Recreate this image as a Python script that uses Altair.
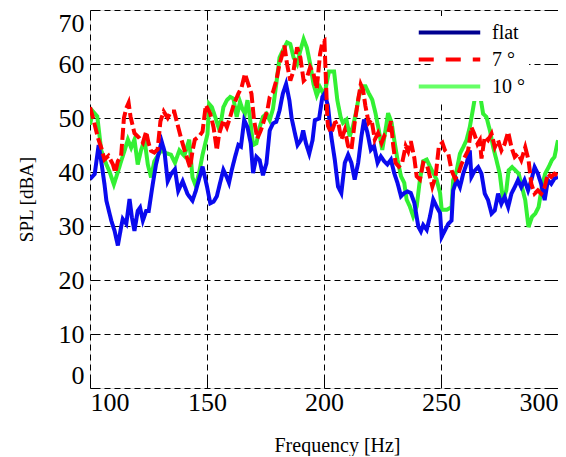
import altair as alt
import pandas as pd

# --- data ---
flat_f = [100, 102, 103.7, 104.8, 106.2, 107, 109.1, 110.5, 111.9, 113.3, 114, 115.5, 116.9, 117.9, 119,
          120.4, 121.4, 122.6, 124, 125.1, 126.8, 128.2, 129.6, 130.6, 131.8, 133.2, 134.6, 136.3, 137.7,
          139.6, 141.7, 143.8, 145.2, 148.1, 150, 151.4, 152.8, 154.2, 155.6, 157, 158.5, 159.4, 160.6,
          162, 163.4, 164.5, 165.9, 167.3, 168.7, 169.7, 171.1, 172.5, 173.9, 175.4, 176.8, 178.2, 179.6,
          181, 182.4, 183.8, 185.2, 186.2, 187.6, 188.7, 190.1, 191.1, 192.3, 193.7, 195.1, 196.1, 197.9,
          199.3, 200.3, 201.7, 203.1, 204.6, 206, 207.4, 208.9, 210.3, 211.7, 213.1, 214.6, 216, 217.1,
          218.6, 220, 221.4, 222.9, 224.3, 225.7, 227.1, 228.6, 230, 231.4, 232.9, 234.3, 235.7, 237.1,
          238.6, 240.3, 241.4, 242.4, 243.9, 245.3, 246.7, 248.1, 249.6, 250.3, 251.7, 253.1, 254.5, 255.2,
          256.7, 258.1, 259.5, 260.9, 262.3, 263, 264.5, 265.9, 267.3, 268.7, 270.1, 271.6, 273, 274.4,
          275.8, 277.2, 278.7, 280.1, 281.5, 282.9, 284.3, 285.7, 287.2, 288.6, 290, 291.4, 292.8, 294.3,
          295.7, 297.1, 298.5, 300]
flat_v = [38.7, 39.6, 45, 42, 37.7, 34.7, 31, 29.1, 26.4, 29.8, 31.3, 30.4, 35, 31.6, 29.1,
          32.8, 33.4, 31, 32.8, 32.8, 37.7, 41.4, 43.9, 45.7, 43.9, 38.3, 39.6, 40.5, 36.5,
          38.3, 35.9, 34.7, 36.5, 41, 37.3, 34.2, 34.5, 35.5, 38, 40.4, 39, 38, 40.4,
          42.8, 45, 44.7, 49.6, 48.3, 45.3, 39.8, 42.8, 42.2, 39.4, 41.6, 47.7, 49, 49.3,
          51.4, 54.5, 56.3, 53.3, 49.9, 47.1, 45, 45.9, 47.7, 45.3, 43.4, 45.9, 49.6, 49.9,
          53.9, 54.6, 52.2, 46.6, 42.3, 37.3, 36.1, 41.7, 43.2, 41.7, 38.6, 41.7, 46.6, 49.7,
          47.2, 44.1, 44.8, 41.7, 42.9, 42, 41.4, 42.3, 39.8, 38, 35.5, 36.1, 36.4, 36.1,
          34.3, 29.9, 29, 30.2, 29.3, 31.8, 34.9, 33.6, 32.4, 28, 29.2, 30.4, 31, 36.6,
          38.5, 37.2, 39.7, 41.5, 44, 39.1, 40.3, 40.9, 39.7, 36, 34.8, 32.3, 32.9, 36,
          34.1, 35.4, 33.5, 36, 37.2, 38.5, 37.2, 38.5, 36.6, 38.5, 40.9, 39.7, 37.8, 34.8,
          38.5, 37.8, 38.8, 39.1]

deg7_f = [100, 101.3, 103.4, 104.8, 106.2, 107.9, 109.8, 110.8, 111.9, 113.3, 114.5, 115.5, 116.5, 117.3,
          119, 121.1, 122.6, 124, 125, 126.1, 127.5, 128.9, 130.1, 131.5, 133.2, 134.6, 136, 137.4,
          138.9, 140.3, 141.7, 142.8, 143.8, 144.8, 146.7, 148.1, 149.5, 151.4, 152.8, 154.2, 155.2,
          157, 158.5, 159.9, 161.3, 163.4, 164.8, 166.2, 167.6, 169, 170.1, 171.5, 173, 174.4, 175.8,
          176.8, 178.2, 179.6, 181, 182.4, 183.1, 184.2, 185.6, 187, 188.5, 189.9, 191.3, 192.7, 194.1,
          195.5, 196.9, 198.3, 199.3, 200.2, 201.4, 201.7, 203.1, 204.6, 206, 207.4, 208.9, 210.3, 211.7,
          213.1, 214.6, 215.7, 216.7, 217.7, 219.1, 220.3, 221.7, 223.1, 224.6, 226, 227.4, 228.6,
          229.6, 230.6, 232, 233.4, 234.9, 236, 237.1, 238.6, 239.6, 241, 242.4, 243.9, 244.9, 246.3,
          247.7, 249.1, 250.6, 251.7, 253.1, 254.5, 256, 257.4, 258.8, 260.2, 261.6, 263, 264.2, 265.6,
          266.6, 267.3, 268.7, 270.1, 271.6, 273, 274.4, 275.8, 277.2, 278.7, 280.1, 281.5, 282.9,
          284.3, 286, 287.4, 288.6, 290, 291.4, 292.8, 294.3, 295.7, 297.1, 298.5, 300]
deg7_v = [52, 50, 46.3, 44.5, 42.3, 43, 41.4, 39.9, 42, 43, 50, 51.8, 52.8, 50.3,
          47.2, 46.3, 45.4, 47.5, 45.4, 43.9, 43.6, 44.2, 49.4, 51.2, 50, 51.2, 51.2, 48.8,
          46.3, 44.2, 42.3, 40.8, 43.9, 46, 46.6, 47.5, 52.4, 50.8, 48.3, 44, 47.1,
          49.6, 48.3, 50.2, 52.3, 54.5, 55.7, 58.2, 56.3, 54.5, 49.6, 46.2, 47.7, 49.6, 51.4,
          53.9, 54.8, 56.9, 60, 62.1, 63.4, 60, 56.9, 58.8, 63.1, 61.2, 56.9, 57.5, 59.4,
          58.2, 55.4, 61.8, 64, 64.3, 50.2, 48.5, 47.2, 49.1, 49.4, 46, 47.8, 44.8, 44.1,
          49.1, 53.4, 56.2, 55.2, 52.2, 49.1, 49.7, 46, 47.2, 45.4, 46.9, 47.2, 49.4,
          44.8, 41.7, 41, 41.7, 44.8, 43.8, 45.7, 42.6, 39.2, 38.6, 41.7, 41.4, 39.8, 37.3,
          39.2, 44.8, 45.4, 44, 43.4, 40.3, 38.8, 39.7, 41.5, 42.8, 44, 48.3, 47.1, 45.2,
          45.9, 42.5, 46.5, 45.9, 47.1, 44.6, 45.9, 44, 45.2, 47.4, 44.6, 42.8, 43.4,
          42.2, 44.6, 42.2, 37.8, 36, 36.6, 36, 37.2, 39.7, 39.1, 39.7, 39.4]

deg10_f = [100, 101.3, 103.1, 104.8, 107, 108.4, 110.2, 111.9, 113.3, 114.8, 116.2, 117.6, 119, 120.4,
           121.8, 123.3, 124.7, 126.1, 127.5, 128.9, 130.4, 132.5, 134.6, 136.3, 138.2, 140.3, 142.4,
           143.8, 145.2, 146.7, 148.1, 150.2, 150.9, 152.1, 153.5, 154.9, 156.1, 157, 158.5, 159.9,
           161.3, 162.7, 164.1, 165.1, 166.2, 167.3, 168.3, 169.7, 171.1, 172.5, 173.9, 175.4, 176.8,
           178.2, 179.6, 181, 182.4, 184.2, 185.6, 187, 188.5, 189.9, 191.3, 192.7, 194.1, 195.5,
           196.9, 198.3, 199.7, 200.5, 202.1, 204.3, 205.7, 207.1, 208.1, 209.6, 211, 212.4, 213.9,
           214.9, 216.3, 217.7, 219.1, 220.6, 222, 223.4, 224.9, 226.3, 227.4, 228.9, 230, 231.4,
           232.9, 234.3, 235.3, 236.7, 238.1, 239.6, 241, 242.4, 243.9, 245.3, 246.7, 248.1, 249.6,
           250.3, 252.4, 254.5, 255.2, 256.7, 258.1, 259.5, 260.9, 262.3, 263.8, 264.8, 266.6, 268,
           269.4, 270.9, 272.3, 273.7, 275.1, 276.5, 277.9, 278.9, 280.4, 281.8, 283.2, 284.6, 286,
           287.4, 288.9, 290.3, 291.7, 293.1, 294.5, 296, 297.4, 298.5, 300]
deg10_v = [48.8, 51.2, 50.3, 44, 41.4, 40, 37.7, 40, 42, 44, 46, 44.5, 46, 41.4,
           44, 46, 41.4, 39, 42, 43, 44, 43.5, 43.2, 41.7, 44, 43, 46,
           39, 37.4, 40, 43.2, 47, 52.6, 52, 50.2, 48.3, 49.6, 52, 53.3, 53.9,
           53.6, 50.2, 53, 51.7, 50.8, 53.3, 50.2, 45, 45.3, 48.3, 50.2, 50.8, 49.6,
           51.7, 56.3, 61.2, 62.5, 64, 63.7, 61.2, 60, 62.5, 64.6, 63, 60, 56.3,
           54.2, 55.7, 54.5, 55, 58.6, 58.6, 53.3, 50.2, 49.1, 49.7, 46.6, 48.5, 51.5,
           54, 55.9, 55.9, 54.6, 53.4, 50.9, 47.8, 44.1, 47.8, 50.9, 49.1, 46, 42.3,
           39.2, 38, 34.9, 33.6, 31.8, 33.6, 38.6, 42, 42.3, 41, 39.8, 38.6, 36.1,
           33, 33, 33.5, 38.5, 40.3, 43.4, 44.6, 45.9, 48.3, 52, 54.5, 54.5, 50.8,
           50.2, 47.7, 44.6, 42.2, 39.7, 34.8, 36.6, 40.3, 40.9, 40.3, 39.7, 37.2, 34.8,
           29.8, 31.7, 32.3, 33.5, 37.2, 39.7, 40.9, 42.2, 42.8, 45.9]

series_names = ["flat", "7 \u00b0", "10 \u00b0"]
line_colors = {"flat": "#0A0AEE", "7 \u00b0": "#FF0000", "10 \u00b0": "#33F033"}
legend_colors = ["#000090", "#FF0000", "#66FF66"]
legend_dashes = [[1, 0], [15, 12], [1, 0]]
plot_dashes = {"flat": [1, 0], "7 \u00b0": [12, 4], "10 \u00b0": [1, 0]}
draw_order = ["10 \u00b0", "flat", "7 \u00b0"]

rows = []
for name, fs, vs in zip(series_names, [flat_f, deg7_f, deg10_f], [flat_v, deg7_v, deg10_v]):
    for i, (f, v) in enumerate(zip(fs, vs)):
        rows.append({"Frequency": f, "SPL": v, "series": name, "order": i})
df = pd.DataFrame(rows)

x_ticks = [100, 150, 200, 250, 300]
y_ticks = [0, 10, 20, 30, 40, 50, 60, 70]

serif = "Liberation Serif"

# grid dash patterns: a solid inner tick at each end, dashed in between
h_grid_dash = [10] + [4, 6] * 44 + [4, 30]
v_grid_dash = [10] + [4, 6] * 35 + [4, 30]

x_enc = alt.X(
    "Frequency:Q",
    scale=alt.Scale(domain=[100, 300], nice=False, zero=False),
    axis=alt.Axis(
        values=x_ticks,
        title="Frequency [Hz]",
        titleFont=serif,
        titleFontSize=20,
        titleFontWeight="normal",
        titleX=247,
        titleY=57,
        titleBaseline="middle",
        labelFont=serif,
        labelFontSize=26,
        labelPadding=1,
        labelFlush=True,
        labelColor="black",
        tickSize=0,
        domain=False,
        grid=True,
        gridColor="black",
        gridDash=v_grid_dash,
        gridWidth=1,
        gridOpacity=1,
    ),
)
y_enc = alt.Y(
    "SPL:Q",
    scale=alt.Scale(domain=[0, 70], nice=False),
    axis=alt.Axis(
        values=y_ticks,
        title="SPL [dBA]",
        titleFont=serif,
        titleFontSize=19,
        titleFontWeight="normal",
        titleAngle=270,
        titleX=-64,
        titleY=189,
        titleAlign="center",
        titleBaseline="middle",
        labelFont=serif,
        labelFontSize=26,
        labelPadding=6,
        labelFlush=True,
        labelColor="black",
        tickSize=0,
        domain=False,
        grid=True,
        gridColor="black",
        gridDash=h_grid_dash,
        gridWidth=1,
        gridOpacity=1,
    ),
)

layers = []
for name in draw_order:
    layers.append(
        alt.Chart(df)
        .transform_filter(alt.datum.series == name)
        .mark_line(strokeWidth=4, clip=True, color=line_colors[name], strokeDash=plot_dashes[name])
        .encode(x=x_enc, y=y_enc, order="order:Q")
    )

legend = alt.Legend(
    title=None,
    orient="none",
    legendX=343,
    legendY=6,
    fillColor="white",
    padding=4,
    symbolType="M-3,0H3",
    symbolSize=420,
    symbolStrokeWidth=4,
    symbolOpacity=1,
    labelFont=serif,
    labelFontSize=20,
    labelOffset=30,
    labelColor="black",
    rowPadding=4,
    offset=0,
)

legend_layer = alt.Chart(df).mark_line(opacity=0, clip=True).encode(
    x=x_enc,
    y=y_enc,
    color=alt.Color(
        "series:N",
        scale=alt.Scale(domain=series_names, range=legend_colors),
        sort=series_names,
        legend=legend,
    ),
    strokeDash=alt.StrokeDash(
        "series:N",
        scale=alt.Scale(domain=series_names, range=legend_dashes),
        sort=series_names,
        legend=legend,
    ),
    order="order:Q",
)

chart = alt.layer(*layers, legend_layer).properties(
    width=468,
    height=378,
    padding={"left": 82, "top": 2, "right": 0, "bottom": 68},
    autosize=alt.AutoSizeParams(type="none"),
).configure_view(
    stroke="black",
    strokeWidth=1.5,
).configure_axis(
    titleFont=serif,
    labelFont=serif,
).configure_legend(
    labelFont=serif,
).configure(background="white")

chart.save("out.html", embed_options={"renderer": "svg", "actions": False})
